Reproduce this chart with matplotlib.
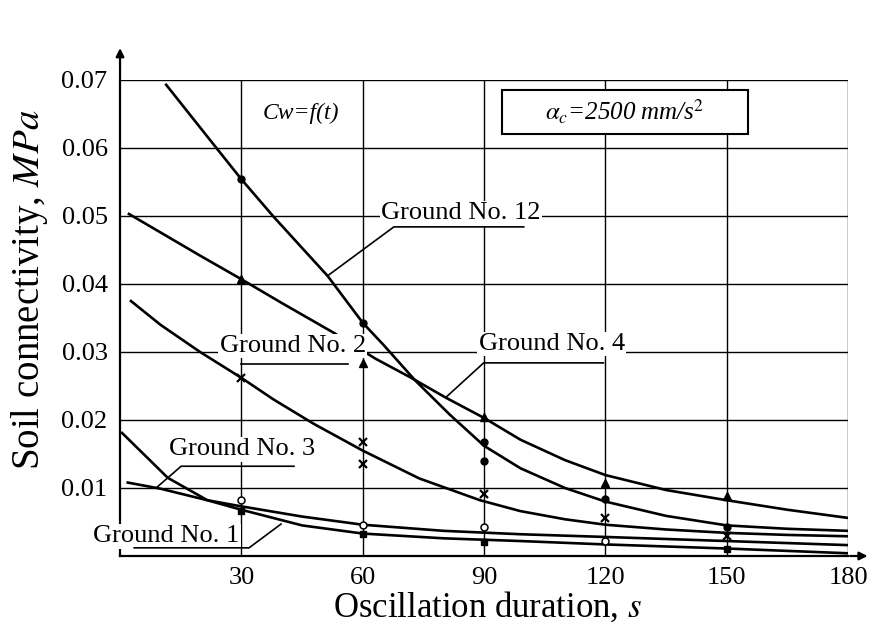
import matplotlib
matplotlib.use("Agg")
import matplotlib.pyplot as plt
from matplotlib.patches import Rectangle

plt.rcParams['font.family'] = ['Liberation Serif', 'DejaVu Serif']
plt.rcParams['mathtext.fontset'] = 'stix'

# curves (t in s, C in MPa)
g12_t = [11.4, 24.1, 30, 38.1, 51.3, 60, 65.2, 73, 81.5, 90, 99, 110, 120, 135, 150, 165, 180]
g12_c = [0.0693, 0.0598, 0.0554, 0.0498, 0.0412, 0.0343, 0.0310, 0.0258, 0.0208, 0.0162, 0.0129,
         0.0100, 0.0080, 0.0059, 0.0045, 0.0040, 0.0037]
g4_t = [2.2, 20, 30, 40, 52.9, 63.2, 72, 80.5, 90, 99, 110, 120, 135, 150, 165, 180]
g4_c = [0.0503, 0.0441, 0.0407, 0.0372, 0.0328, 0.0290, 0.0262, 0.0233, 0.0203, 0.0171, 0.0141,
        0.0119, 0.0097, 0.0082, 0.0068, 0.0056]
g2_t = [2.7, 10, 19.8, 30, 38, 48, 60, 74, 89, 99, 110, 120, 135, 150, 165, 180]
g2_c = [0.0375, 0.0340, 0.0300, 0.0262, 0.0230, 0.0194, 0.0155, 0.0114, 0.0082, 0.0066, 0.0054,
        0.0046, 0.0039, 0.0034, 0.0031, 0.0029]
g3_t = [1.9, 10, 21.6, 30, 45, 60, 80, 99, 120, 150, 180]
g3_c = [0.0108, 0.0099, 0.0082, 0.0073, 0.0058, 0.0046, 0.0037, 0.0032, 0.0028, 0.0022, 0.0016]
g1_t = [0.5, 11.8, 21.6, 30, 45, 60, 80, 99, 120, 150, 180]
g1_c = [0.0181, 0.0115, 0.0082, 0.0068, 0.0045, 0.0033, 0.0026, 0.0022, 0.0017, 0.0011, 0.0004]

# measured points
g12_pt_t = [30, 60, 90, 90, 120, 150]
g12_pt_c = [0.0554, 0.0343, 0.0167, 0.0139, 0.0084, 0.0043]
g4_pt_t = [30, 60, 90, 120, 150]
g4_pt_c = [0.0407, 0.0284, 0.0204, 0.0108, 0.0088]
g2_pt_t = [30, 60, 60, 90, 120, 150]
g2_pt_c = [0.0262, 0.0167, 0.0136, 0.0091, 0.0056, 0.0030]
g3_pt_t = [30, 60, 90, 120]
g3_pt_c = [0.0082, 0.0046, 0.0043, 0.0022]
g1_pt_t = [30, 60, 90, 150]
g1_pt_c = [0.0066, 0.0032, 0.0020, 0.0010]

x_ticks = [30, 60, 90, 120, 150, 180]
y_ticks = [0.01, 0.02, 0.03, 0.04, 0.05, 0.06, 0.07]

fig = plt.figure(figsize=(8.73, 6.25), dpi=100)
ax = fig.add_axes([0.1375, 0.1104, 0.834, 0.7616])
ax.set_xlim(0, 180)
ax.set_ylim(0, 0.07)

ax.set_xticks(x_ticks)
ax.set_yticks(y_ticks)
ax.set_xticklabels([str(v) for v in x_ticks], fontsize=19)
ax.set_yticklabels(['%.2f' % v for v in y_ticks], fontsize=19)
ax.tick_params(axis='both', length=0)
ax.tick_params(axis='x', pad=8)
ax.tick_params(axis='y', pad=9)
ax.grid(True, color='black', lw=1.0)
ax.set_axisbelow(True)

for s in ['top', 'right']:
    ax.spines[s].set_visible(False)
for s in ['left', 'bottom']:
    ax.spines[s].set_linewidth(1.6)

# axis arrows
ax.annotate('', xy=(0, 0.0751), xytext=(0, 0.0698), annotation_clip=False,
            arrowprops=dict(arrowstyle='-|>', lw=1.6, color='black', mutation_scale=12))
ax.annotate('', xy=(185.5, 0), xytext=(179.8, 0), annotation_clip=False,
            arrowprops=dict(arrowstyle='-|>', lw=1.6, color='black', mutation_scale=12))

lw = 1.9
for t, c in [(g12_t, g12_c), (g4_t, g4_c), (g2_t, g2_c), (g3_t, g3_c), (g1_t, g1_c)]:
    ax.plot(t, c, color='black', lw=lw, zorder=3, solid_joinstyle='round')

ax.plot(g12_pt_t, g12_pt_c, 'o', color='black', ms=5, zorder=4)
ax.plot(g4_pt_t, g4_pt_c, '^', color='black', ms=6, zorder=4)
ax.plot(g2_pt_t, g2_pt_c, 'x', color='black', ms=6, mew=1.6, zorder=4)
ax.plot(g3_pt_t, g3_pt_c, 'o', mfc='white', mec='black', ms=5, mew=1.1, zorder=4)
ax.plot(g1_pt_t, g1_pt_c, 's', color='black', ms=5, zorder=4)

# labels with leaders
box = dict(facecolor='white', edgecolor='none', pad=1.0)
lab_fs = 19
ax.text(84.2, 0.0504, 'Ground No. 12', fontsize=lab_fs, ha='center', va='center', bbox=box, zorder=5)
ax.plot([51.3, 67.7, 99.8], [0.0412, 0.0484, 0.0484], color='black', lw=1.2, zorder=5)

ax.text(42.7, 0.0309, 'Ground No. 2', fontsize=lab_fs, ha='center', va='center', bbox=box, zorder=5)
ax.plot([30, 56.3], [0.0282, 0.0282], color='black', lw=1.2, zorder=5)

ax.text(106.7, 0.0312, 'Ground No. 4', fontsize=lab_fs, ha='center', va='center', bbox=box, zorder=5)
ax.plot([80.5, 89.9, 119.5], [0.0233, 0.0284, 0.0284], color='black', lw=1.2, zorder=5)

ax.text(30.1, 0.0157, 'Ground No. 3', fontsize=lab_fs, ha='center', va='center', bbox=box, zorder=5)
ax.plot([8.9, 15.1, 43.0], [0.0100, 0.0132, 0.0132], color='black', lw=1.2, zorder=5)

ax.text(11.4, 0.0029, 'Ground No. 1', fontsize=lab_fs, ha='center', va='center', bbox=box, zorder=5,
        clip_on=False)
ax.plot([39.8, 31.9, 3.5], [0.0047, 0.0012, 0.0012], color='black', lw=1.2, zorder=5)

ax.text(44.7, 0.0651, 'Cw=f(t)', fontsize=17, style='italic', ha='center', va='center',
        bbox=box, zorder=5)
ax.add_patch(Rectangle((94.5, 0.0621), 60.7, 0.0064, facecolor='white', edgecolor='black',
                       lw=1.5, zorder=5))
ax.text(124.8, 0.0653, r'$\alpha_c$=2500 mm/s$^2$', fontsize=18, style='italic',
        ha='center', va='center', zorder=6)

ax.set_xlabel('Oscillation duration, $\\mathit{s}$', fontsize=25)
ax.xaxis.set_label_coords(0.505, -0.072)
ax.set_ylabel('Soil connectivity, $\\mathit{MPa}$', fontsize=28)
ax.yaxis.set_label_coords(-0.096, 0.56)

fig.savefig('out.png', dpi=100)
